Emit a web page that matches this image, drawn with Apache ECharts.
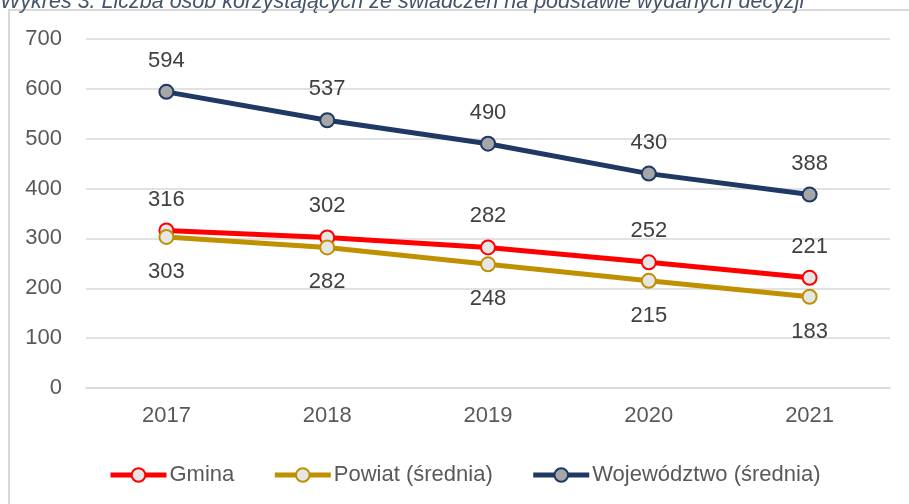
<!DOCTYPE html>
<html>
<head>
<meta charset="utf-8">
<style>
  html, body { margin: 0; padding: 0; background: #fff; }
  #chart { width: 909px; height: 504px; }
</style>
<script src="https://cdn.jsdelivr.net/npm/echarts@6/dist/echarts.min.js"></script>
</head>
<body>
<div id="chart"></div>
<script>
// lata
let years = ['2017', '2018', '2019', '2020', '2021']
// dane serii
let gmina = [316, 302, 282, 252, 221]
let powiat = [303, 282, 248, 215, 183]
let wojewodztwo = [594, 537, 490, 430, 388]
// etykiety osi Y
let yTicks = [0, 100, 200, 300, 400, 500, 600, 700]

let FONT = 'Liberation Sans'

function makeSeries (name, data, color, fill, labelPos, dist) {
  return {
    name: name,
    type: 'line',
    data: data,
    symbol: 'circle',
    symbolSize: 14,
    lineStyle: { color: color, width: 5 },
    itemStyle: { color: fill, borderColor: color, borderWidth: 2 },
    label: {
      show: true,
      position: labelPos,
      distance: dist,
      color: '#404040',
      fontSize: 22,
      fontFamily: FONT
    },
    emphasis: { disabled: true }
  }
}

let chart = echarts.init(document.getElementById('chart'), null, { renderer: 'canvas' })
chart.setOption({
  animation: false,
  backgroundColor: '#fff',
  graphic: [
    // ramka
    {
      type: 'rect',
      shape: { x: 9, y: 10, width: 1000, height: 600 },
      style: { fill: 'none', stroke: '#d9d9d9', lineWidth: 2 },
      silent: true
    },
    // tytuł (ucięty u góry)
    {
      type: 'text',
      left: 0,
      top: -9,
      style: {
        text: 'Wykres 3. Liczba osób korzystających ze świadczeń na podstawie wydanych decyzji',
        fill: '#44546a',
        font: 'italic 21.5px "Liberation Sans Narrow", "Liberation Sans"'
      },
      silent: true
    }
  ],
  grid: { left: 86, right: 19, top: 39, bottom: 116 },
  legend: {
    left: 108,
    top: 464,
    padding: 0,
    itemWidth: 56,
    itemHeight: 17,
    itemGap: 38,
    lineStyle: { width: 5 },
    textStyle: { color: '#595959', fontSize: 22, fontFamily: FONT, padding: [0, 0, 0, -2] },
    data: ['Gmina', 'Powiat (średnia)', 'Województwo (średnia)']
  },
  xAxis: {
    type: 'category',
    data: years,
    boundaryGap: true,
    axisLine: { show: true, lineStyle: { color: '#d9d9d9', width: 1.5 } },
    axisTick: { show: false },
    axisLabel: { color: '#595959', fontSize: 22, fontFamily: FONT, margin: 17 }
  },
  yAxis: {
    type: 'value',
    min: yTicks[0],
    max: yTicks[yTicks.length - 1],
    interval: 100,
    axisLine: { show: false },
    axisTick: { show: false },
    axisLabel: { color: '#595959', fontSize: 22, fontFamily: FONT, margin: 24 },
    splitLine: { lineStyle: { color: '#d9d9d9', width: 1.5 } }
  },
  series: [
    makeSeries('Gmina', gmina, '#ff0000', '#e7e6e6', 'top', 12),
    makeSeries('Powiat (średnia)', powiat, '#bf9000', '#e7e6e6', 'bottom', 16),
    makeSeries('Województwo (średnia)', wojewodztwo, '#1f3864', '#a6a6a6', 'top', 12)
  ]
})
</script>
</body>
</html>
